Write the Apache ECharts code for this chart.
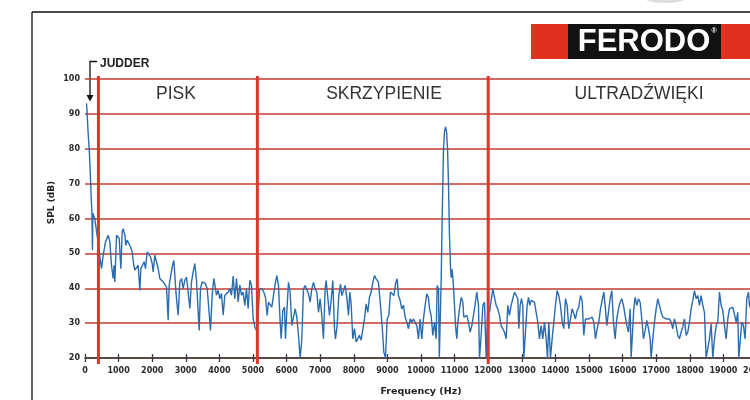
<!DOCTYPE html>
<html><head><meta charset="utf-8">
<script src="https://cdn.jsdelivr.net/npm/echarts@6/dist/echarts.min.js"></script>
<style>html,body{margin:0;padding:0;background:#fff}#c{width:750px;height:400px}</style>
</head><body><div id="c"></div>
<script>
// ---- data ----
const freqHz = [
45,65,90,130,165,190,205,215,222,232,262,290,342,392,442,491,541,610,690,739,789,838,868,888,938,987,1017,1067,1106,1136,1186,1215,1255,1305,1354,1404,1453,1483,1533,1582,1632,1662,1711,1761,1801,1850,1900,1949,1999,2029,2078,2128,2178,2227,2277,2326,2376,2426,2475,2505,2555,2604,2644,2693,2723,2773,2822,2872,2922,2971,3021,3070,3120,3170,3219,3269,3318,3368,3398,3437,3487,3537,3586,3636,3685,3735,3785,3834,3864,3914,3963,4013,4062,4112,4162,4211,4261,4310,4360,4410,4459,4509,4558,4608,4658,4707,4757,4806,4856,4906,4955,5005,5054,5104,
5140,5193,5262,5322,5371,5421,5461,5510,5560,5609,5659,5709,5758,5808,5838,5887,5937,5967,6006,6056,6105,6155,6205,6254,6304,6353,6403,6453,6502,6552,6601,6651,6701,6750,6800,6849,6899,6949,6998,7048,7097,7147,7177,7226,7276,7326,7375,7425,7455,7504,7554,7603,7643,7693,7742,7792,7841,7881,7921,7970,8020,8070,8119,8169,8218,8268,8318,8367,8417,8466,8516,8566,8615,8665,8734,8794,8843,8893,8943,8992,9042,9091,9141,9191,9240,9290,9329,9379,9429,9478,9528,9577,9627,9677,9726,9776,9825,9875,9924,9974,10024,10073,10123,10173,10222,
10253,10302,10352,10402,10451,10481,10521,10545,10600,10630,10670,10700,10730,10760,10790,10818,10848,10880,10900,10920,10950,10997,11027,11066,11096,11146,11195,11245,11275,11314,11364,11413,11463,11513,11562,11612,11661,11711,11741,11790,11840,11890,11939,11989,12038,
12137,12187,12236,12286,12336,12385,12435,12484,12534,12584,12633,12683,12732,12782,12832,12881,12911,12951,12990,13030,13060,13109,13159,13199,13238,13278,13328,13377,13427,13476,13526,13576,13625,13675,13724,13764,13804,13853,13903,13953,14002,14052,14101,14151,14201,14250,14300,14349,14399,14449,14498,14548,14597,14647,14697,14746,14796,14845,14895,14945,14994,15044,15093,15143,15193,15242,15292,15341,15391,15441,15480,15530,15579,15629,15679,15728,15778,15827,15877,15927,15976,16026,16075,16125,16175,16224,16254,16304,16333,16373,16423,16472,16522,16571,16621,16671,16720,16770,16819,16849,16899,16948,16998,17048,17097,17147,17196,17246,17296,17345,17395,17444,17494,17544,17593,17643,17692,17742,17792,17841,17891,17940,17990,18040,18089,18139,18188,18238,18288,18337,18387,18436,18486,18536,18585,18635,18684,18734,18784,18833,18883,18932,18982,19032,19081,19131,19180,19230,19280,19329,19379,19428,19458,19498,19547,19597,19646,19696,19746,19776,19850,19930,20000
];
const splDb = [
93,90,85,79,71,65,62,62.5,51,61.5,61,60,60,53,49,45.6,49.5,53.3,55.2,53.3,46.6,42.8,46.6,41.8,55.2,55.7,54.3,45.6,56.2,57.1,55.2,52.3,53.8,53.3,51.9,50.4,46.6,45.2,45.6,46.6,39.4,45.6,46.6,47.6,45.6,50.4,50.9,49,47.1,44.7,49.5,49,45.6,42.8,42.3,41.8,41.3,40.4,30.8,40.9,43.7,46.6,48,40.9,37,32.3,41.8,42.8,39.9,42.3,43.2,38.9,34.2,41.8,44.7,47.1,42.3,33.2,27.9,39.9,41.8,41.8,41.3,39.9,34.2,27.9,38,42.8,43.2,38,39.4,37,38.5,32.3,38,38.5,38.9,39.9,38,43.5,37,42.8,36.1,40.9,38,38.9,35.1,39.9,34.2,42.3,40.9,31.3,28.9,27.9,
29.5,39.8,39.8,38.9,37.4,32.2,36,36.5,34.6,37.9,41.2,43.6,40.8,30.3,25.5,33.6,34.6,25.5,33.1,41.7,38.9,29.3,31.7,34.1,31.7,26.5,20,25.5,39.8,40.8,40.3,38.4,36,39.8,41.7,39.8,38.9,33.1,37,32.2,25.5,39.8,42.2,37.4,32.2,36.5,42.2,28.4,25.5,29.3,37.9,41.2,37.9,39.3,40.8,37.4,32.2,38.9,35.5,25.5,28.4,24.6,24.6,26.5,25.1,25.5,31.2,35.5,33.1,37.4,38.9,41.7,43.6,42.7,41.7,35.1,29.3,21.7,20,31.2,32.2,38.9,39.3,37.9,41.2,42.7,37.9,36.5,34.1,35.1,31.7,30.3,28.4,31.2,30.3,31.2,30.8,29.3,25.5,31.2,25.5,31.2,35.1,38.4,37.4,
34.1,32.2,26.5,30.3,25.5,40.8,39.8,20,42,60,80,85,86.3,85,80,70,55,45.5,43,45.5,43,35.1,29.3,25.5,30.3,34.1,37.4,36,31.7,31.2,32.2,30.3,27.4,29.3,32.2,35.5,38.9,35.1,20,26.5,35.1,36,20,35.1,33.1,
39.8,40.3,35.1,34.1,32.2,29.3,28.4,27.4,25.5,35.1,32.2,35.1,37,38.9,39.3,37,28.4,35.1,37,35.1,20,20,35.1,37.4,35.1,36.5,36,36,33.1,30.3,25.5,29.3,25.5,30.3,25.5,20,30.3,20,25.5,30.3,35.1,39.3,37.9,35.1,30.3,28.4,37,35.1,28.4,31.2,34.1,32.7,31.2,33.6,34.6,37.9,36.5,26.5,31.2,31.7,31.2,31.2,31.7,30.3,25.5,28.4,30.3,34.1,36.5,38.9,35.1,29.3,33.1,37,39.3,30.3,25.5,31.2,34.1,36,37,35.1,32.2,29.3,27.4,34.1,20,20,34.1,37.4,35.1,37,36,31.2,25.5,27.9,30.8,28.4,25.5,20,25.5,30.3,34.1,37,37.4,33.1,31.7,31.7,31.2,31.7,31.2,30.3,28.4,31.2,29.3,26.5,25.5,27.4,28.9,31.2,26.5,27.4,30.3,34.1,36.5,39.3,37,37.9,35.1,37.9,35.1,33.1,20,20,25.5,29.8,20,25.5,29.3,30.3,38.9,35.1,33.6,29.3,25.5,31.2,34.1,34.6,34.6,35.1,30.3,33.1,20,20,30.3,29.3,25.5,37,38.9,35.1,33,36,34
];
const sectionBounds = [400, 5130, 12000];
const sectionNames = ['PISK', 'SKRZYPIENIE', 'ULTRADŹWIĘKI'];
const xTickStep = 1000;
const yTicks = [20, 30, 40, 50, 60, 70, 80, 90, 100];

// ---- chart ----
const chart = echarts.init(document.getElementById('c'), null, {renderer: 'canvas'});
const spectrum = freqHz.map((f, i) => [f, splDb[i]]);
const yMin = yTicks[0], yMax = yTicks[yTicks.length - 1];

const boundarySeries = sectionBounds.map(b => ({
  type: 'line', xAxisIndex: 0, data: [[b, yMin - 1.7], [b, yMax + 0.85]],
  symbol: 'none', clip: false, silent: true, z: 5,
  lineStyle: {color: '#e2352a', width: 3}
}));

const sectionLabelX = [176, 384, 639];
const lblFont = 'Liberation Sans, Arial, sans-serif';
const plain = v => String(v);

chart.setOption({
  animation: false,
  backgroundColor: '#ffffff',
  grid: {left: 85, top: 79, right: -7, bottom: 42, containLabel: false, outerBoundsMode: 'none'},
  xAxis: [{
    type: 'value', min: 0, max: 20000, interval: xTickStep,
    axisLine: {show: true, lineStyle: {color: '#3a3a3a', width: 1.5}},
    axisTick: {show: true, length: 4, lineStyle: {color: '#3a3a3a', width: 1.3}},
    axisLabel: {margin: 9, fontSize: 8, fontWeight: 'bold', color: '#2a2a2a', fontFamily: 'DejaVu Sans', formatter: plain},
    splitLine: {show: false},
    name: 'Frequency (Hz)', nameLocation: 'middle', nameGap: 29,
    nameTextStyle: {fontSize: 9.5, fontWeight: 'bold', color: '#222', fontFamily: 'DejaVu Sans'}
  }, {
    type: 'value', min: 0, max: 20000, interval: xTickStep, position: 'bottom',
    axisLine: {show: false},
    axisTick: {show: true, inside: true, length: 4, lineStyle: {color: '#3a3a3a', width: 1.3}},
    axisLabel: {show: false}, splitLine: {show: false}
  }],
  yAxis: {
    type: 'value', min: yMin, max: yMax, interval: 10,
    axisLine: {show: false}, axisTick: {show: false},
    axisLabel: {margin: 5, fontSize: 8, fontWeight: 'bold', color: '#2a2a2a', fontFamily: 'DejaVu Sans', formatter: plain},
    splitLine: {show: true, lineStyle: {color: '#c23a30', width: 1.5}}
  },
  series: [{
    type: 'line', xAxisIndex: 0, data: spectrum, showSymbol: false, symbol: 'none',
    lineStyle: {color: '#2b6cb0', width: 1.4}, z: 3, silent: true
  }].concat(boundarySeries),
  graphic: [
    {type: 'line', shape: {x1: 32, y1: 12, x2: 750, y2: 12}, style: {stroke: '#111', lineWidth: 1.3}},
    {type: 'line', shape: {x1: 32, y1: 12, x2: 32, y2: 400}, style: {stroke: '#111', lineWidth: 1.3}},
    {type: 'ellipse', shape: {cx: 665, cy: -6, rx: 26, ry: 9}, style: {fill: '#dcdcdc'}},
    {type: 'rect', shape: {x: 531, y: 24, width: 219, height: 35}, style: {fill: '#e0301e'}},
    {type: 'rect', shape: {x: 568, y: 24, width: 153, height: 35}, style: {fill: '#111'}},
    {type: 'text', x: 644, y: 42, style: {text: 'FERODO', fill: '#fff', font: 'bold 31px ' + lblFont, textAlign: 'center', textVerticalAlign: 'middle'}},
    {type: 'text', x: 714, y: 31, style: {text: '®', fill: '#fff', font: 'bold 7px ' + lblFont, textAlign: 'center', textVerticalAlign: 'middle'}},
    ...sectionNames.map((n, i) => ({type: 'text', x: sectionLabelX[i], y: 94, z: 10,
      style: {text: n, fill: '#333', font: '17.5px ' + lblFont, textAlign: 'center', textVerticalAlign: 'middle'}})),
    {type: 'text', x: 100, y: 63.5, style: {text: 'JUDDER', fill: '#222', font: 'bold 12px ' + lblFont, textAlign: 'left', textVerticalAlign: 'middle'}},
    {type: 'polyline', shape: {points: [[97, 61.5], [90, 61.5], [90, 96]]}, style: {stroke: '#111', lineWidth: 1.3, fill: null}},
    {type: 'polygon', shape: {points: [[86.5, 95], [93.5, 95], [90, 101.5]]}, style: {fill: '#111'}},
    {type: 'text', x: 52, y: 202.5, rotation: Math.PI / 2,
      style: {text: 'SPL (dB)', fill: '#222', font: 'bold 9px DejaVu Sans', textAlign: 'center', textVerticalAlign: 'middle'}}
  ]
});
</script></body></html>
